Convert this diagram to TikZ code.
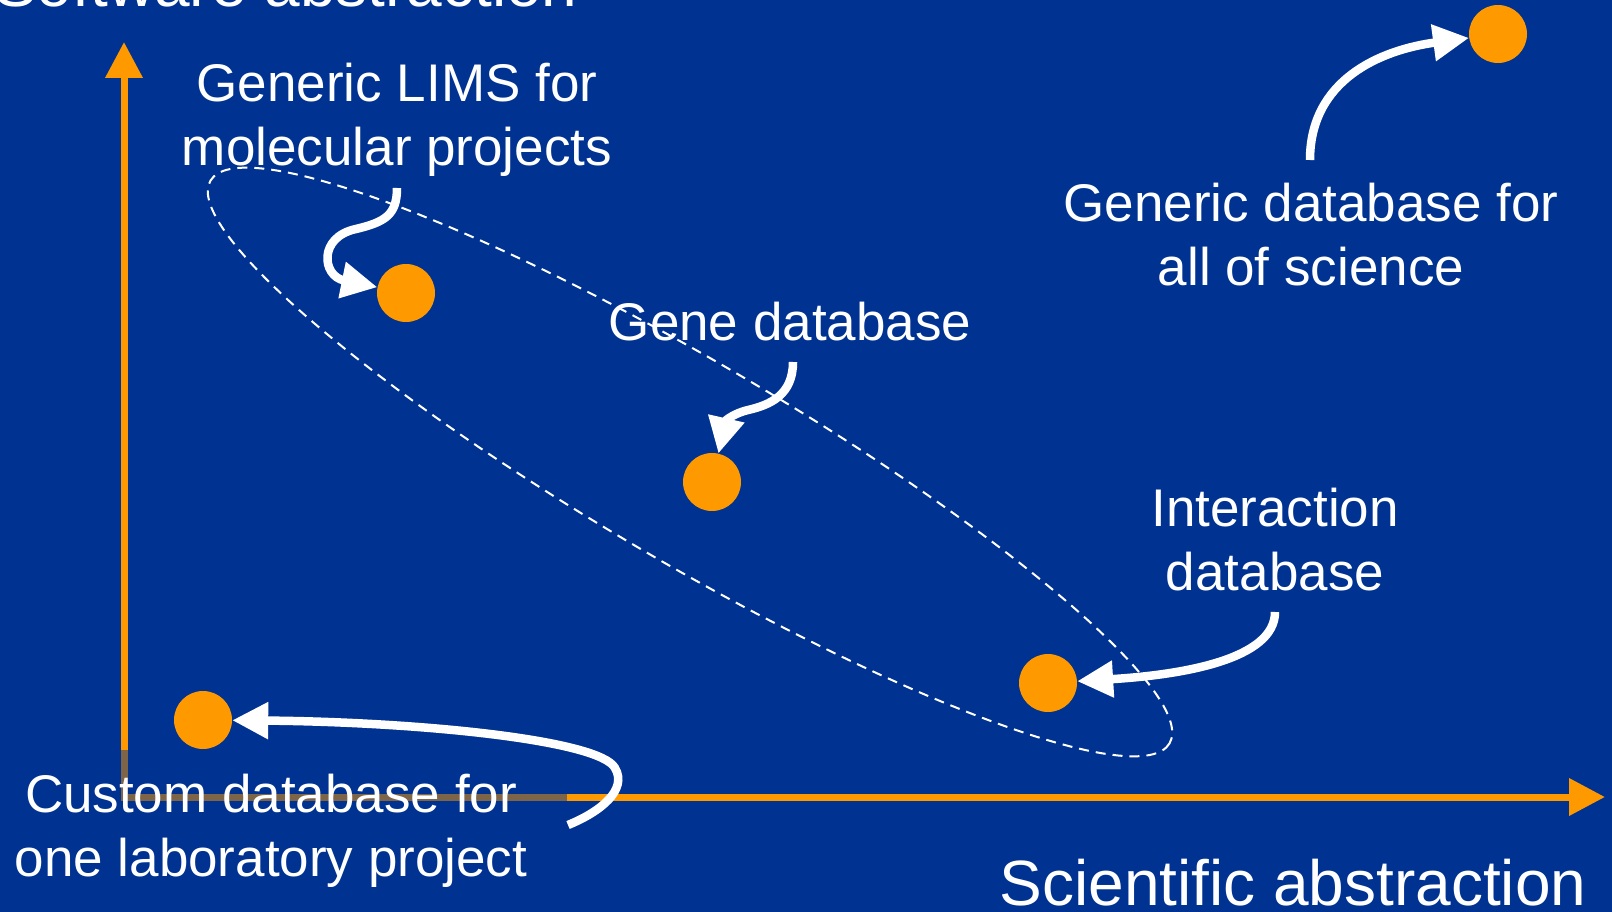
\documentclass[tikz,border=0pt]{standalone}
\usepackage{fontspec}
\setmainfont{Liberation Sans}
\usetikzlibrary{arrows.meta}
\definecolor{bgblue}{RGB}{0,50,145}
\definecolor{dotorange}{RGB}{255,153,0}
\newcommand{\twolines}[2]{\begin{tabular}[t]{@{}c@{}}#1\\#2\end{tabular}}
\begin{document}
\begin{tikzpicture}[x=1pt,y=-1pt,
  lbl/.style={text=white, inner sep=0pt, anchor=base, font=\fontsize{53}{64}\selectfont},
  axtitle/.style={text=white, inner sep=0pt, font=\fontsize{64}{76}\selectfont},
  dot/.style={circle, fill=dotorange, minimum size=58pt, inner sep=0pt},
  axis/.style={draw=dotorange, line width=7pt, {Triangle[length=36pt,width=36pt]}-{Triangle[length=36pt,width=36pt]}},
  pointer/.style={draw=white, line width=8.5pt, -{Triangle[length=36pt,width=35pt]}},
  group/.style={draw=white, line width=2pt, dash pattern=on 10pt off 7pt}
]
\useasboundingbox (0,0) rectangle (1612,912);
\fill[bgblue] (0,0) rectangle (1612,912);

% axes
\coordinate (O) at (124,797);
\coordinate (ytip) at (124,42);
\coordinate (xtip) at (1605,797);
\draw[axis] (ytip) -- (O) -- (xtip);

% translucent label box over the axes corner
\fill[bgblue, opacity=0.5] (5,750) rectangle (567,900);

% dashed grouping ellipse
\draw[group, rotate around={-30.4:(690,462)}] (690,462) ellipse [x radius=556, y radius=100];

% dots
\node[dot] (lims) at (406,293) {};
\node[dot] (gene) at (712,482) {};
\node[dot] (inter) at (1048,683) {};
\node[dot] (custom) at (203,720) {};
\node[dot] (science) at (1498,34) {};

% axis titles
\node[axtitle, anchor=base west] (ytitle) at (-6,7) {Software abstraction};
\node[axtitle, anchor=base] (xtitle) at (1293,905) {Scientific abstraction};

% labels
\node[lbl] (limsl) at (397,102) {\twolines{Generic LIMS for}{molecular projects}};
\node[lbl] (genel) at (790,340) {Gene database};
\node[lbl] (sciencel) at (1311,222) {\twolines{Generic database for}{all of science}};
\node[lbl] (interl) at (1275,526) {\twolines{Interaction}{database}};
\node[lbl] (customl) at (271,812) {\twolines{Custom database for}{one laboratory project}};

% arrow starts
\coordinate (limsS) at (397,188);
\coordinate (geneS) at (793,362);
\coordinate (scienceS) at (1310,160);
\coordinate (interS) at (1275,612);
\coordinate (customS) at (568,825);

% pointers
\draw[pointer] (limsS) .. controls (397,215) and (385,222) .. (356,229)
  .. controls (318,237) and (322,276) .. (lims);
\draw[pointer] (geneS) .. controls (793,395) and (770,405) .. (748,410)
  .. controls (735,413) and (726,420) .. (gene);
\draw[pointer] (scienceS) .. controls (1310,80) and (1380,50) .. (science);
\draw[pointer] (interS) .. controls (1275,660) and (1180,675) .. (inter);
\draw[pointer] (customS) .. controls (600,812) and (628,790) .. (615,768)
  .. controls (600,740) and (420,722) .. (custom);
\end{tikzpicture}
\end{document}
